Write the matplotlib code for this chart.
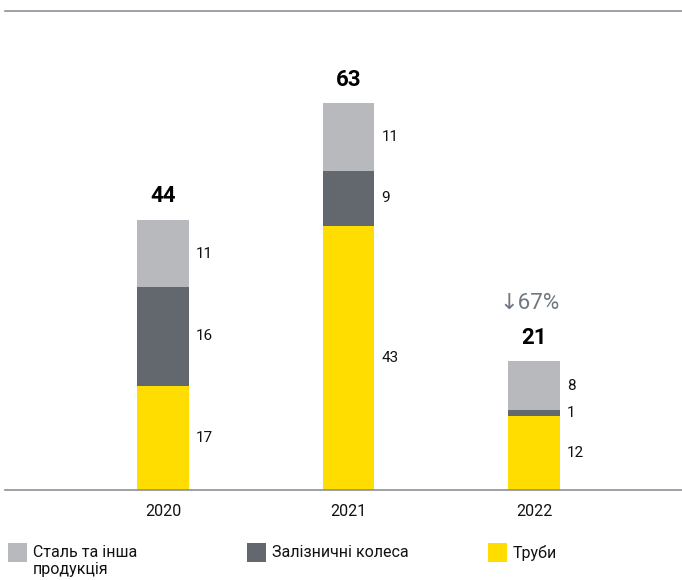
import matplotlib
matplotlib.use("Agg")
import matplotlib.pyplot as plt
from matplotlib.patches import Rectangle

plt.rcParams["font.family"] = ["Roboto", "DejaVu Sans"]

YEARS = ["2020", "2021", "2022"]
STEEL = [11, 11, 8]
WHEELS = [16, 9, 1]
PIPES = [17, 43, 12]
TOTALS = [44, 63, 21]
CHANGE_LABEL = "↓67%"

SERIES_NAMES = ["Сталь та інша\nпродукція", "Залізничні колеса", "Труби"]
COLORS = ["#b8b9bd", "#62686e", "#ffdd00"]

fig = plt.figure(figsize=(6.82, 5.80), dpi=100)
ax = fig.add_axes([5 / 682, 90 / 580, 677 / 682, 479 / 580])

x = list(range(len(YEARS)))
width = 0.28

stacks = [PIPES, WHEELS, STEEL]
stack_colors = [COLORS[2], COLORS[1], COLORS[0]]
bottom = [0] * len(YEARS)
for values, color in zip(stacks, stack_colors):
    ax.bar(x, values, width, bottom=bottom, color=color, linewidth=0)
    for i, v in enumerate(values):
        ax.annotate(str(v), (x[i] + width / 2, bottom[i] + v / 2),
                    xytext=(5, 0), textcoords="offset points",
                    ha="left", va="center", fontsize=11, color="#111111")
    bottom = [b + v for b, v in zip(bottom, values)]

for i, t in enumerate(TOTALS):
    ax.annotate(str(t), (x[i], t), xytext=(0, 9), textcoords="offset points",
                ha="center", va="bottom", fontsize=16, fontweight="bold", color="#000000")

ax.annotate(CHANGE_LABEL, (x[2], TOTALS[2]), xytext=(-3, 34), textcoords="offset points",
            ha="center", va="bottom", fontsize=16, color="#6f7880")

ax.set_xlim(-0.852, 2.798)
ax.set_ylim(0, 78)
ax.set_xticks(x)
ax.set_xticklabels(YEARS, fontsize=11.5, color="#111111")
ax.tick_params(axis="x", length=0, pad=10)
ax.set_yticks([])
for side in ["left", "right"]:
    ax.spines[side].set_visible(False)
for side in ["top", "bottom"]:
    ax.spines[side].set_color("#8a9198")
    ax.spines[side].set_linewidth(1.2)

# legend drawn by hand to keep the wide column spacing
legend_x = [8, 247, 488]
for lx, name, color in zip(legend_x, SERIES_NAMES, COLORS):
    fig.patches.append(Rectangle((lx / 682, (580 - 562) / 580), 19 / 682, 19 / 580,
                                 transform=fig.transFigure, color=color, linewidth=0))
    fig.text((lx + 25) / 682, (580 - 545) / 580, name, ha="left", va="top",
             fontsize=11.5, color="#111111", linespacing=1.2)

fig.savefig("out.png", dpi=100)
